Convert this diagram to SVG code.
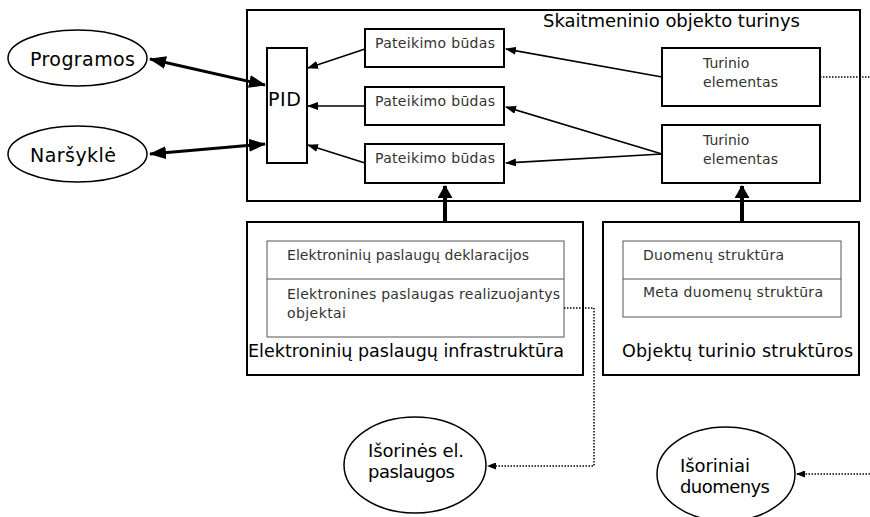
<svg xmlns="http://www.w3.org/2000/svg" width="870" height="517" viewBox="0 0 870 517">
<style>
text{font-family:"DejaVu Sans","Liberation Sans",sans-serif;fill:#000}
.sm{font-size:14px;fill:#333}
.big{font-size:18px}
.box{fill:#fff;stroke:#000;stroke-width:2}
.tbl{fill:#fff;stroke:#555;stroke-width:1}
.ell{fill:#fff;stroke:#000;stroke-width:1.5}
.thin{fill:none;stroke:#000;stroke-width:1.6}
.thick{fill:none;stroke:#000;stroke-width:3}
.vthick{fill:none;stroke:#000;stroke-width:4}
.dot{fill:none;stroke:#000;stroke-width:1.5;stroke-dasharray:1.5,1.5}
</style>
<defs>
<marker id="ah" markerUnits="userSpaceOnUse" markerWidth="11" markerHeight="8" refX="10" refY="4" orient="auto-start-reverse"><path d="M0,0 L11,4 L0,8 z" fill="#000"/></marker>
<marker id="ahT" markerUnits="userSpaceOnUse" markerWidth="17" markerHeight="13" refX="16" refY="6.5" orient="auto-start-reverse"><path d="M0,0 L17,6.5 L0,13 z" fill="#000"/></marker>
<marker id="ahV" markerUnits="userSpaceOnUse" markerWidth="13" markerHeight="15" refX="12" refY="7.5" orient="auto"><path d="M0,0 L13,7.5 L0,15 z" fill="#000"/></marker>
<marker id="ahD" markerUnits="userSpaceOnUse" markerWidth="9" markerHeight="7" refX="8" refY="3.5" orient="auto"><path d="M0,0 L9,3.5 L0,7 z" fill="#000"/></marker>
</defs>

<g id="main">
<rect class="box" x="247" y="10" width="613" height="191"/>
<text class="big" x="543" y="27" textLength="257">Skaitmeninio objekto turinys</text>
</g>

<g id="pid">
<rect class="box" x="267" y="48" width="40" height="115" stroke-width="1.6"/>
<text x="268" y="106" style="font-size:19px" textLength="33">PID</text>
</g>

<g id="pat1">
<rect class="box" x="365" y="29" width="139" height="38"/>
<text class="sm" x="375" y="48" textLength="120">Pateikimo būdas</text>
</g>
<g id="pat2">
<rect class="box" x="365" y="87" width="139" height="38"/>
<text class="sm" x="375" y="106" textLength="120">Pateikimo būdas</text>
</g>
<g id="pat3">
<rect class="box" x="365" y="144" width="139" height="39"/>
<text class="sm" x="375" y="163" textLength="120">Pateikimo būdas</text>
</g>

<g id="tur1">
<rect class="box" x="662" y="48" width="158" height="58"/>
<text class="sm" x="703" y="68">Turinio</text>
<text class="sm" x="703" y="87" textLength="75">elementas</text>
</g>
<g id="tur2">
<rect class="box" x="662" y="125" width="158" height="58"/>
<text class="sm" x="703" y="145">Turinio</text>
<text class="sm" x="703" y="164" textLength="75">elementas</text>
</g>

<g id="prog">
<ellipse class="ell" cx="77.5" cy="58" rx="69.5" ry="28"/>
<text class="big" x="30" y="66" style="font-size:19px" textLength="105">Programos</text>
</g>
<g id="nars">
<ellipse class="ell" cx="77.5" cy="154" rx="69.5" ry="28"/>
<text class="big" x="30" y="162" style="font-size:19px" textLength="86">Naršyklė</text>
</g>

<g id="infra">
<rect class="box" x="247" y="222" width="336" height="153"/>
<rect class="tbl" x="267" y="241" width="297" height="96"/>
<line x1="267" y1="279" x2="564" y2="279" stroke="#555" stroke-width="1"/>
<text class="sm" x="287" y="260" textLength="242">Elektroninių paslaugų deklaracijos</text>
<text class="sm" x="287" y="299" textLength="273">Elektronines paslaugas realizuojantys</text>
<text class="sm" x="287" y="318" textLength="59">objektai</text>
<text x="248" y="357" style="font-size:17.5px" textLength="316">Elektroninių paslaugų infrastruktūra</text>
</g>

<g id="struct">
<rect class="box" x="603" y="222" width="256" height="153"/>
<rect class="tbl" x="623" y="241" width="218" height="76"/>
<line x1="623" y1="279" x2="841" y2="279" stroke="#555" stroke-width="1"/>
<text class="sm" x="643" y="260" textLength="141">Duomenų struktūra</text>
<text class="sm" x="643" y="297" textLength="180">Meta duomenų struktūra</text>
<text x="622" y="357" style="font-size:17.5px" textLength="231">Objektų turinio struktūros</text>
</g>

<g id="isel">
<ellipse class="ell" cx="415" cy="465" rx="71" ry="48"/>
<text class="big" x="368" y="457" textLength="96">Išorinės el.</text>
<text class="big" x="368" y="478" textLength="87">paslaugos</text>
</g>
<g id="isduom">
<ellipse class="ell" cx="726" cy="474" rx="69" ry="47"/>
<text class="big" x="680" y="472" textLength="70">Išoriniai</text>
<text class="big" x="680" y="493" textLength="90">duomenys</text>
</g>

<g id="connectors">
<line class="thick" x1="150" y1="59" x2="265" y2="85" marker-start="url(#ahT)" marker-end="url(#ahT)"/>
<line class="thick" x1="150" y1="154" x2="265" y2="144" marker-start="url(#ahT)" marker-end="url(#ahT)"/>
<line class="thin" x1="365" y1="49" x2="308" y2="68" marker-end="url(#ah)"/>
<line class="thin" x1="365" y1="106" x2="308" y2="106" marker-end="url(#ah)"/>
<line class="thin" x1="365" y1="163" x2="308" y2="145" marker-end="url(#ah)"/>
<line class="thin" x1="662" y1="77" x2="506" y2="49" marker-end="url(#ah)"/>
<line class="thin" x1="662" y1="154" x2="506" y2="107" marker-end="url(#ah)"/>
<line class="thin" x1="662" y1="154" x2="506" y2="163" marker-end="url(#ah)"/>
<line class="vthick" x1="445" y1="222" x2="445" y2="186" marker-end="url(#ahV)"/>
<line class="vthick" x1="742" y1="222" x2="742" y2="186" marker-end="url(#ahV)"/>
<line class="dot" x1="820" y1="77" x2="870" y2="77"/>
<polyline class="dot" points="564,308 594,308 594,466 488,466" marker-end="url(#ahD)"/>
<line class="dot" x1="870" y1="474" x2="797" y2="474" marker-end="url(#ahD)"/>
</g>
</svg>
